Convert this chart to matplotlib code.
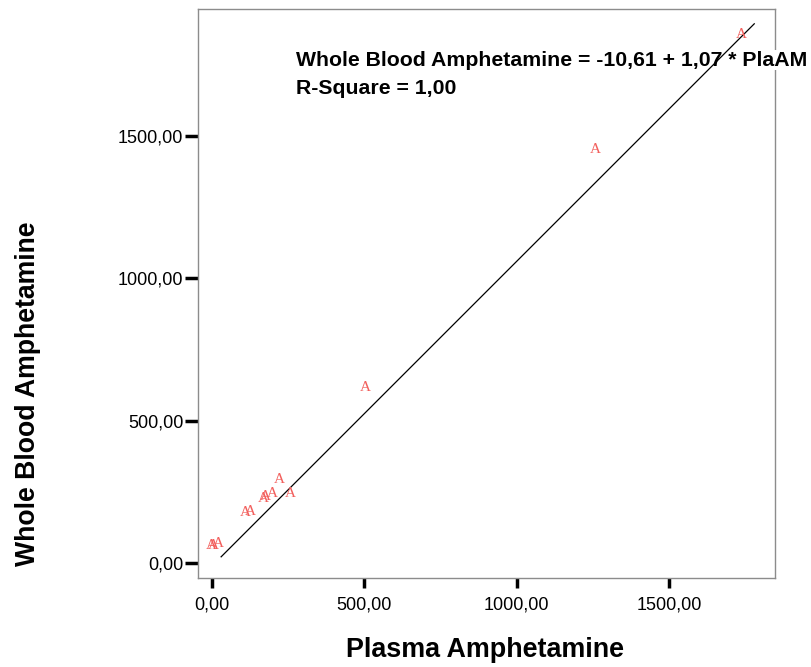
import matplotlib
matplotlib.use("Agg")
import matplotlib.pyplot as plt
import numpy as np

plt.rcParams['font.family'] = ['Liberation Sans', 'DejaVu Sans']

# plasma vs whole blood amphetamine
plasma = [-3, 3, 20, 108, 125, 167, 174, 197, 220, 256, 505, 1260, 1739]
whole_blood = [60, 63, 70, 176, 179, 228, 232, 243, 292, 243, 615, 1451, 1855]

intercept = -10.61
slope = 1.07
fit_range = [30, 1780]

x_ticks = [0, 500, 1000, 1500]
y_ticks = [0, 500, 1000, 1500]


def fmt(v):
    return f"{v:.2f}".replace(".", ",")


fig = plt.figure(figsize=(8.12, 6.67), dpi=100)
ax = fig.add_axes([0.2438, 0.1334, 0.7106, 0.8531])

# regression line, drawn over the equation label
xs = np.linspace(fit_range[0], fit_range[1], 2)
ax.plot(xs, intercept + slope * xs, color="black", lw=0.9, zorder=6)

# points drawn as "A" glyphs
for px, py in zip(plasma, whole_blood):
    ax.text(px, py, "A", color="#f25f5c", fontsize=11,
            family=["Liberation Serif", "DejaVu Serif"],
            ha="center", va="center", zorder=7)

ax.set_xlim(-46, 1848)
ax.set_ylim(-53, 1946)

ax.set_xticks(x_ticks)
ax.set_xticklabels([fmt(v) for v in x_ticks])
ax.set_yticks(y_ticks)
ax.set_yticklabels([fmt(v) for v in y_ticks])

ax.tick_params(axis="y", direction="out", length=9.5, width=2.5,
               color="black", labelsize=13, pad=1)
ax.tick_params(axis="x", direction="out", length=7.5, width=2.5,
               color="black", labelsize=13, pad=6)

for sp in ax.spines.values():
    sp.set_color("#8c8c8c")
    sp.set_linewidth(1.0)

# equation label runs past the right spine, on a white box
ax.text(0.170, 0.910, "Whole Blood Amphetamine = -10,61 + 1,07 * PlaAM",
        transform=ax.transAxes, fontsize=15.3, fontweight="bold",
        ha="left", va="center", clip_on=False, zorder=5,
        bbox=dict(facecolor="white", edgecolor="none", pad=0.5))
ax.text(0.170, 0.861, "R-Square = 1,00",
        transform=ax.transAxes, fontsize=15.3, fontweight="bold",
        ha="left", va="center")

fig.text(0.597, 0.025, "Plasma Amphetamine", fontsize=19.4,
         fontweight="bold", ha="center", va="center")
fig.text(0.034, 0.409, "Whole Blood Amphetamine", fontsize=19.2,
         fontweight="bold", ha="center", va="center", rotation=90)

fig.savefig("out.png", dpi=100)
